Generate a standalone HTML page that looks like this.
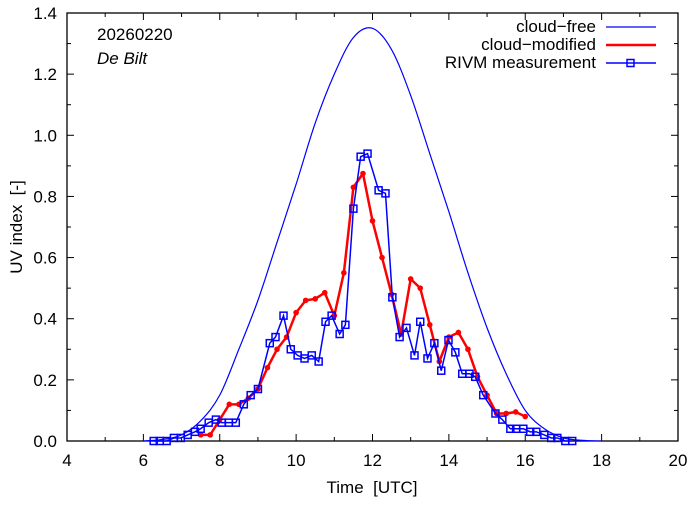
<!DOCTYPE html>
<html><head><meta charset="utf-8"><style>
body{margin:0;background:#fff}
svg text{font-family:"Liberation Sans",sans-serif;fill:#000}
</style></head><body>
<svg width="694" height="501" viewBox="0 0 694 501">
<g id="axes"></g>
<g id="plot"></g>
<text x="97" y="40" font-size="17">20260220</text>
<text x="97" y="64" font-size="17" font-style="italic">De Bilt</text>
<text x="372" y="493" font-size="17" text-anchor="middle">Time&#160;&#160;[UTC]</text>
<text x="0" y="0" font-size="17" text-anchor="middle" transform="translate(22,227) rotate(-90)">UV index&#160;&#160;[-]</text>
<g>
<text x="596" y="32" font-size="17" text-anchor="end">cloud−free</text>
<line x1="606" y1="27" x2="656" y2="27" stroke="#0000ff" stroke-width="1.2"/>
<text x="596" y="50" font-size="17" text-anchor="end">cloud−modified</text>
<line x1="606" y1="45" x2="656" y2="45" stroke="#ff0000" stroke-width="2.5"/>
<text x="596" y="68" font-size="17" text-anchor="end">RIVM measurement</text>
<line x1="606" y1="63" x2="656" y2="63" stroke="#0000ff" stroke-width="1.5"/>
<rect x="627" y="59.5" width="7" height="7" fill="none" stroke="#0000ff" stroke-width="1.5"/>
</g>
</svg>
<script>
const xTicks=[4,6,8,10,12,14,16,18,20];
const yTicks=[0,0.2,0.4,0.6,0.8,1.0,1.2,1.4];
const clearTimes=[6,6.5,7,7.5,8,8.5,9,9.5,10,10.5,11,11.5,12,12.5,13,13.5,14,14.5,15,15.5,16,16.5,17,17.5,18];
const clearVals=[0,0.005,0.02,0.066,0.15,0.30,0.46,0.65,0.84,1.04,1.20,1.32,1.35,1.28,1.13,0.94,0.75,0.55,0.37,0.22,0.10,0.04,0.01,0.002,0];
const modTimes=[7.5,7.75,8,8.25,8.5,8.75,9,9.25,9.5,9.75,10,10.25,10.5,10.75,11,11.25,11.5,11.75,12,12.25,12.5,12.75,13,13.25,13.5,13.75,14,14.25,14.5,14.75,15,15.25,15.5,15.75,16];
const modVals=[0.02,0.02,0.07,0.12,0.12,0.14,0.17,0.24,0.30,0.34,0.42,0.46,0.465,0.485,0.41,0.55,0.83,0.875,0.72,0.60,0.48,0.35,0.53,0.50,0.38,0.26,0.34,0.355,0.30,0.21,0.15,0.09,0.09,0.095,0.08];
const measTimes=[6.27,6.43,6.61,6.80,6.98,7.16,7.35,7.50,7.71,7.90,8.05,8.24,8.42,8.63,8.81,9.0,9.31,9.46,9.67,9.86,10.04,10.22,10.41,10.59,10.77,10.93,11.14,11.29,11.50,11.69,11.87,12.16,12.34,12.52,12.71,12.89,13.10,13.25,13.44,13.62,13.80,13.99,14.17,14.35,14.54,14.69,14.90,15.22,15.40,15.61,15.76,15.95,16.13,16.29,16.50,16.68,16.84,17.05,17.23];
const measVals=[0,0,0,0.01,0.01,0.02,0.03,0.04,0.06,0.07,0.06,0.06,0.06,0.12,0.15,0.17,0.32,0.34,0.41,0.30,0.28,0.27,0.28,0.26,0.39,0.41,0.35,0.38,0.76,0.93,0.94,0.82,0.81,0.47,0.34,0.37,0.28,0.39,0.27,0.32,0.23,0.33,0.29,0.22,0.22,0.21,0.15,0.09,0.07,0.04,0.04,0.04,0.03,0.03,0.02,0.01,0.01,0,0];
const NS='http://www.w3.org/2000/svg';
const L=67,R=678,T=13,B=441;
const sx=t=>L+(t-4)/16*(R-L);
const sy=v=>B-v/1.4*(B-T);
function mk(tag,attrs,parent){const e=document.createElementNS(NS,tag);for(const k in attrs)e.setAttribute(k,attrs[k]);parent.appendChild(e);return e;}
const axes=document.getElementById('axes'),plot=document.getElementById('plot');
const frame=mk('rect',{x:L,y:T,width:R-L,height:B-T,fill:'none',stroke:'#000','stroke-width':1.3},axes);


for(let h=4;h<=20;h++){const x=sx(h);const len=(h%2===0)?7:4;
 mk('line',{x1:x,y1:B,x2:x,y2:B-len,stroke:'#000'},axes);
 mk('line',{x1:x,y1:T,x2:x,y2:T+len,stroke:'#000'},axes);}
for(let i=0;i<=14;i++){const y=sy(i/10);const len=(i%2===0)?7:4;
 mk('line',{x1:L,y1:y,x2:L+len,y2:y,stroke:'#000'},axes);
 mk('line',{x1:R,y1:y,x2:R-len,y2:y,stroke:'#000'},axes);}
xTicks.forEach(t=>{const e=mk('text',{x:sx(t),y:B+25,'font-size':17,'text-anchor':'middle'},axes);e.textContent=t;
 
 });
yTicks.forEach(v=>{const e=mk('text',{x:L-10,y:sy(v)+6,'font-size':17,'text-anchor':'end'},axes);e.textContent=v.toFixed(1);
 
 });
const pts=clearTimes.map((t,i)=>[sx(t),sy(clearVals[i])]);
let d='M'+pts[0][0]+','+pts[0][1];
for(let i=0;i<pts.length-1;i++){const p0=pts[Math.max(0,i-1)],p1=pts[i],p2=pts[i+1],p3=pts[Math.min(pts.length-1,i+2)];
 const c1=[p1[0]+(p2[0]-p0[0])/6,p1[1]+(p2[1]-p0[1])/6],c2=[p2[0]-(p3[0]-p1[0])/6,p2[1]-(p3[1]-p1[1])/6];
 d+=' C'+c1[0]+','+Math.min(B,c1[1])+' '+c2[0]+','+Math.min(B,c2[1])+' '+p2[0]+','+p2[1];}
const cf=mk('path',{d:d,fill:'none',stroke:'#0000ff','stroke-width':1.2},plot);


const mp=mk('polyline',{points:modTimes.map((t,i)=>sx(t)+','+sy(modVals[i])).join(' '),fill:'none',stroke:'#ff0000','stroke-width':2.5,'stroke-linejoin':'round'},plot);


modTimes.forEach((t,i)=>{const c=mk('circle',{cx:sx(t),cy:sy(modVals[i]),r:2.8,fill:'#ff0000'},plot);
 
 });
const ml=mk('polyline',{points:measTimes.map((t,i)=>sx(t)+','+sy(measVals[i])).join(' '),fill:'none',stroke:'#0000ff','stroke-width':1.5},plot);


measTimes.forEach((t,i)=>{const r=mk('rect',{x:sx(t)-3.5,y:sy(measVals[i])-3.5,width:7,height:7,fill:'none',stroke:'#0000ff','stroke-width':1.5},plot);
 
 });
</script>
</body></html>
